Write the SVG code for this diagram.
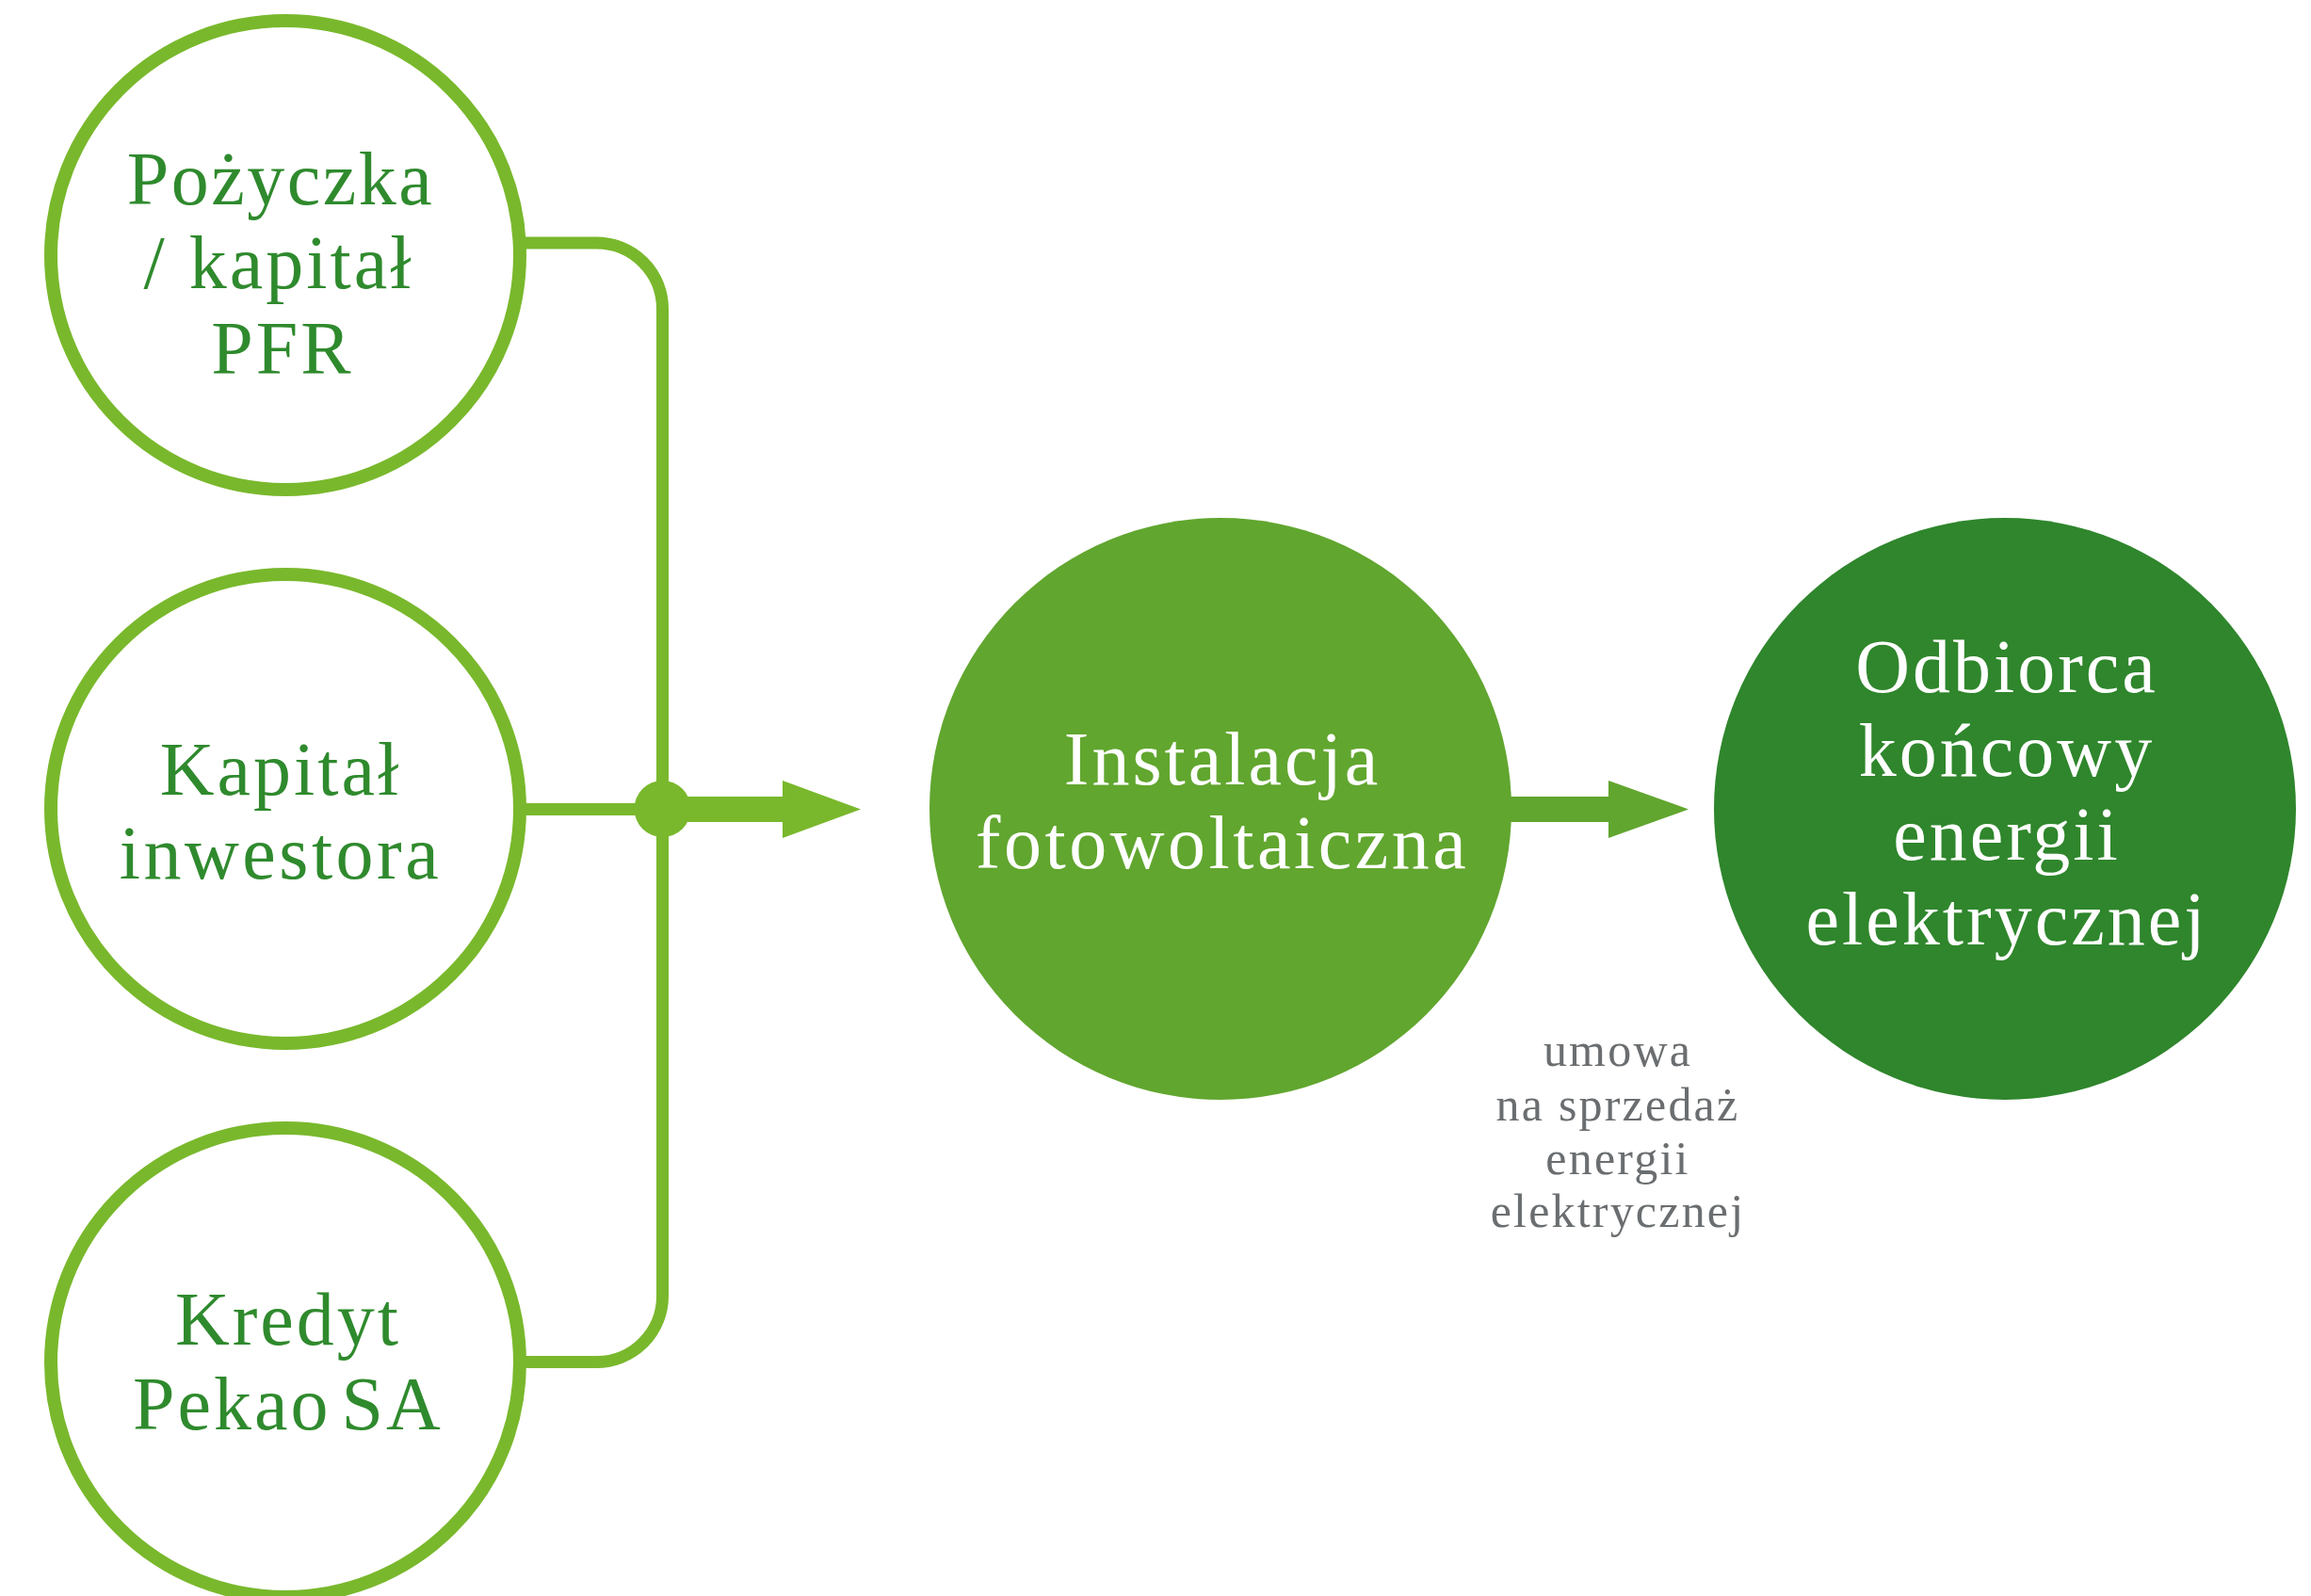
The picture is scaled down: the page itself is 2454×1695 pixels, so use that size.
<svg xmlns="http://www.w3.org/2000/svg" width="2454" height="1695" viewBox="0 0 2454 1695">
  <style>
    .src { fill: #ffffff; stroke: #79b82c; stroke-width: 14; }
    .mid { fill: #61a62f; }
    .end { fill: #2f862c; }
    .line { fill: none; stroke: #79b82c; stroke-width: 13; }
    .t { font-family: "Liberation Serif", "DejaVu Serif", serif; font-size: 80px; text-anchor: middle; letter-spacing: 3px; }
    .tg { fill: #2f8a2d; }
    .tw { fill: #ffffff; }
    .lbl { font-family: "Liberation Serif", "DejaVu Serif", serif; font-size: 50px; text-anchor: middle; letter-spacing: 2.2px; fill: #6b6e70; }
  </style>
  <rect width="2454" height="1695" fill="#ffffff"/>

  <g id="connectors">
    <path class="line" d="M558,258 H633 A70,70 0 0 1 703.5,328 V1376 A70,70 0 0 1 633,1446.5 H558"/>
    <path class="line" d="M558,859.5 H703.5"/>
    <circle cx="703.5" cy="859" r="30" fill="#79b82c"/>
    <rect x="703" y="846" width="130" height="27" fill="#79b82c"/>
    <polygon points="831,829 914,859.5 831,890" fill="#79b82c"/>
    <rect x="1600" y="846" width="110" height="27" fill="#61a62f"/>
    <polygon points="1708,829 1793,859.5 1708,890" fill="#61a62f"/>
  </g>

  <g id="node-pozyczka">
    <circle class="src" cx="303" cy="271" r="249"/>
    <text class="t tg" x="298" y="217" style="letter-spacing:2.5px">Pożyczka</text>
    <text class="t tg" x="296" y="306">/ kapitał</text>
    <text class="t tg" x="300" y="397">PFR</text>
  </g>

  <g id="node-kapital">
    <circle class="src" cx="303" cy="859" r="249"/>
    <text class="t tg" x="298" y="844">Kapitał</text>
    <text class="t tg" x="298" y="933" style="letter-spacing:3.5px">inwestora</text>
  </g>

  <g id="node-kredyt">
    <circle class="src" cx="303" cy="1447" r="249"/>
    <text class="t tg" x="306" y="1428">Kredyt</text>
    <text class="t tg" x="306" y="1518" style="word-spacing:-12px">Pekao SA</text>
  </g>

  <g id="node-instalacja">
    <circle class="mid" cx="1296" cy="859" r="309"/>
    <text class="t tw" x="1298" y="833">Instalacja</text>
    <text class="t tw" x="1298" y="922" style="letter-spacing:3.5px">fotowoltaiczna</text>
  </g>

  <g id="node-odbiorca">
    <circle class="end" cx="2129" cy="859" r="309"/>
    <text class="t tw" x="2131" y="735">Odbiorca</text>
    <text class="t tw" x="2131" y="824">końcowy</text>
    <text class="t tw" x="2131" y="913">energii</text>
    <text class="t tw" x="2131" y="1003">elektrycznej</text>
  </g>

  <g id="label-umowa">
    <text class="lbl" x="1718" y="1132">umowa</text>
    <text class="lbl" x="1718" y="1190">na sprzedaż</text>
    <text class="lbl" x="1718" y="1247">energii</text>
    <text class="lbl" x="1718" y="1303">elektrycznej</text>
  </g>
</svg>
